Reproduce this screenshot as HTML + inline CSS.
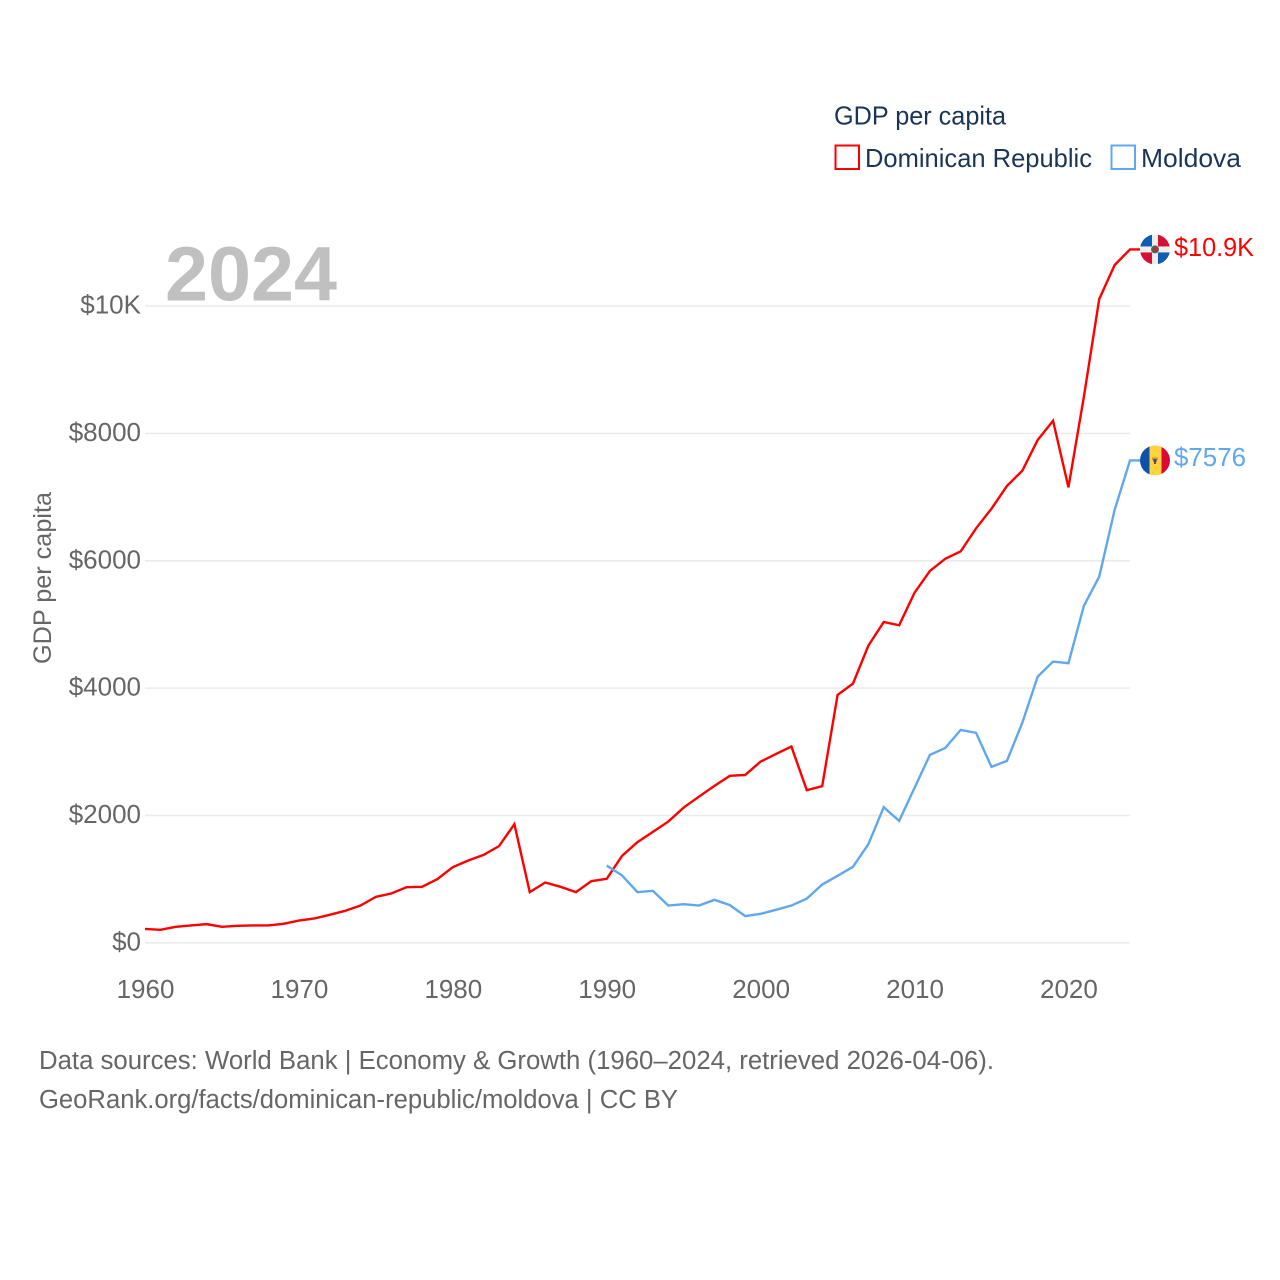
<!DOCTYPE html>
<html lang="en">
<head>
<meta charset="utf-8">
<title>GDP per capita: Dominican Republic and Moldova</title>
<style>
html,body{margin:0;padding:0;background:#fff;}
svg{display:block;font-family:"Liberation Sans",sans-serif;}
</style>
</head>
<body>
<svg id="chart" xmlns="http://www.w3.org/2000/svg" width="1280" height="1280" viewBox="0 0 1280 1280">
  <rect x="0" y="0" width="1280" height="1280" fill="#ffffff"/>
  <g id="grid"></g>
  <g id="yticks"></g>
  <g id="xticks"></g>
  <text x="165" y="300.5" font-size="77" font-weight="700" fill="#c0c0c0" textLength="172" lengthAdjust="spacingAndGlyphs">2024</text>
  <text transform="translate(51,664) rotate(-90)" font-size="25" fill="#666666" textLength="172" lengthAdjust="spacingAndGlyphs">GDP per capita</text>
  <g id="series"></g>
  <g id="dr-flag">
    <clipPath id="dr-clip"><circle cx="0" cy="0" r="15"/></clipPath>
    <g clip-path="url(#dr-clip)">
      <rect x="-15" y="-15" width="30" height="30" fill="#eeeeee"/>
      <rect x="-15" y="-15" width="12" height="12" fill="#0f5cb5"/>
      <rect x="3" y="-15" width="12" height="12" fill="#d80f33"/>
      <rect x="-15" y="3" width="12" height="12" fill="#d80f33"/>
      <rect x="3" y="3" width="12" height="12" fill="#0f5cb5"/>
      <circle cx="0" cy="0" r="4" fill="#4a6a5a"/>
      <rect x="-2" y="-2" width="4" height="4" fill="#c8242e"/>
    </g>
  </g>
  <g id="md-flag">
    <clipPath id="md-clip"><circle cx="0" cy="0" r="15"/></clipPath>
    <g clip-path="url(#md-clip)">
      <rect x="-15" y="-15" width="9.5" height="30" fill="#0f50a8"/>
      <rect x="-5.5" y="-15" width="12" height="30" fill="#ffd23f"/>
      <rect x="6.5" y="-15" width="8.5" height="30" fill="#dc0a32"/>
      <rect x="-3" y="-3" width="6" height="3" fill="#e8912a"/>
      <rect x="-1.5" y="-1.5" width="3" height="3" fill="#1f4a9a"/>
      <rect x="-1" y="1.5" width="2" height="2" fill="#a03020"/>
    </g>
  </g>
  <g id="endlabels"></g>

  <g>
    <text x="834" y="124.5" font-size="26" fill="#1a3557" textLength="172" lengthAdjust="spacingAndGlyphs">GDP per capita</text>
    <g>
      <rect x="835.5" y="145.5" width="23.5" height="23.5" fill="#ffffff" stroke="#ff0000" stroke-width="2"/>
      <text x="865" y="167" font-size="26" fill="#1a3557" textLength="227" lengthAdjust="spacingAndGlyphs">Dominican Republic</text>
    </g>
    <g>
      <rect x="1111.5" y="145.5" width="23.5" height="23.5" fill="#ffffff" stroke="#5fa8ee" stroke-width="2"/>
      <text x="1141" y="167" font-size="26" fill="#1a3557" textLength="100" lengthAdjust="spacingAndGlyphs">Moldova</text>
    </g>
  </g>

  <text x="39" y="1069" font-size="25.5" fill="#666666" textLength="955" lengthAdjust="spacingAndGlyphs">Data sources: World Bank | Economy &amp; Growth (1960–2024, retrieved 2026-04-06).</text>
  <text x="39" y="1108" font-size="25.5" fill="#666666" textLength="639" lengthAdjust="spacingAndGlyphs">GeoRank.org/facts/dominican-republic/moldova | CC BY</text>
</svg>
<script>
const drYears = [1960,1961,1962,1963,1964,1965,1966,1967,1968,1969,1970,1971,1972,1973,1974,1975,1976,1977,1978,1979,1980,1981,1982,1983,1984,1985,1986,1987,1988,1989,1990,1991,1992,1993,1994,1995,1996,1997,1998,1999,2000,2001,2002,2003,2004,2005,2006,2007,2008,2009,2010,2011,2012,2013,2014,2015,2016,2017,2018,2019,2020,2021,2022,2023,2024];
const drValues = [217,204,251,272,293,251,267,272,272,298,350,382,440,502,586,722,774,874,879,1000,1188,1292,1381,1518,1863,796,947,879,796,968,1005,1366,1582,1743,1904,2124,2297,2465,2622,2637,2846,2967,3082,2397,2460,3893,4071,4667,5039,4987,5499,5840,6032,6148,6510,6818,7174,7414,7896,8199,7154,8571,10110,10644,10890];
const mdYears = [1990,1991,1992,1993,1994,1995,1996,1997,1998,1999,2000,2001,2002,2003,2004,2005,2006,2007,2008,2009,2010,2011,2012,2013,2014,2015,2016,2017,2018,2019,2020,2021,2022,2023,2024];
const mdValues = [1213,1057,795,816,585,607,585,675,592,419,455,518,585,695,915,1052,1193,1549,2130,1915,2433,2951,3061,3344,3297,2763,2857,3454,4181,4417,4391,5290,5750,6797,7576];
const yTickValues = [0,2000,4000,6000,8000,10000];
const yTickLabels = ["$0","$2000","$4000","$6000","$8000","$10K"];
const xTickValues = [1960,1970,1980,1990,2000,2010,2020];
const drEndLabel = "$10.9K";
const mdEndLabel = "$7576";

const SVGNS = "http://www.w3.org/2000/svg";
const xScale = function (year) { return 145 + (year - 1960) * (985 / 64); };
const yScale = function (value) { return 942.8 - value * 0.06367; };

function make(tag, parent, props) {
  const el = document.createElementNS(SVGNS, tag);
  Object.keys(props).forEach(function (k) { el.setAttribute(k, props[k]); });
  parent.appendChild(el);
  return el;
}

const grid = document.getElementById("grid");
const yticks = document.getElementById("yticks");
const xticks = document.getElementById("xticks");
const series = document.getElementById("series");
const endlabels = document.getElementById("endlabels");

yTickValues.forEach(function (v, i) {
  const line = make("line", grid, {x1: 145, x2: 1130, y1: yScale(v), y2: yScale(v), stroke: "#ebebeb", "stroke-width": 1.6});
  
  
  const t = make("text", yticks, {x: 141, y: yScale(v) + 7.5, "text-anchor": "end", "font-size": 26, fill: "#666666"});
  
  
  t.textContent = yTickLabels[i];
});

xTickValues.forEach(function (v) {
  const t = make("text", xticks, {x: xScale(v) + 0.5, y: 998, "text-anchor": "middle", "font-size": 26, fill: "#666666"});
  
  
  t.textContent = String(v);
});

function pathFor(years, values) {
  let d = years.map(function (y, i) {
    return (i ? "L" : "M") + xScale(y).toFixed(2) + " " + yScale(values[i]).toFixed(2);
  }).join(" ");
  d += " L" + (xScale(years[years.length - 1]) + 10).toFixed(2) + " " + yScale(values[values.length - 1]).toFixed(2);
  return d;
}

const drLine = make("path", series, {d: pathFor(drYears, drValues), fill: "none", stroke: "#ff0000", "stroke-width": 2.4, "stroke-linejoin": "miter"});



const mdLine = make("path", series, {d: pathFor(mdYears, mdValues), fill: "none", stroke: "#5fa8ee", "stroke-width": 2.4, "stroke-linejoin": "miter"});



const drEndY = yScale(drValues[drValues.length - 1]);
const mdEndY = yScale(mdValues[mdValues.length - 1]);
document.getElementById("dr-flag").setAttribute("transform", "translate(1155," + drEndY + ")");
document.getElementById("md-flag").setAttribute("transform", "translate(1155," + mdEndY + ")");

const drText = make("text", endlabels, {x: 1174, y: drEndY + 6.5, "font-size": 26, fill: "#ff0000", textLength: 80, lengthAdjust: "spacingAndGlyphs"});


drText.textContent = drEndLabel;

const mdText = make("text", endlabels, {x: 1174, y: mdEndY + 5.5, "font-size": 26, fill: "#5fa8ee", textLength: 72, lengthAdjust: "spacingAndGlyphs"});


mdText.textContent = mdEndLabel;
</script>
</body>
</html>
